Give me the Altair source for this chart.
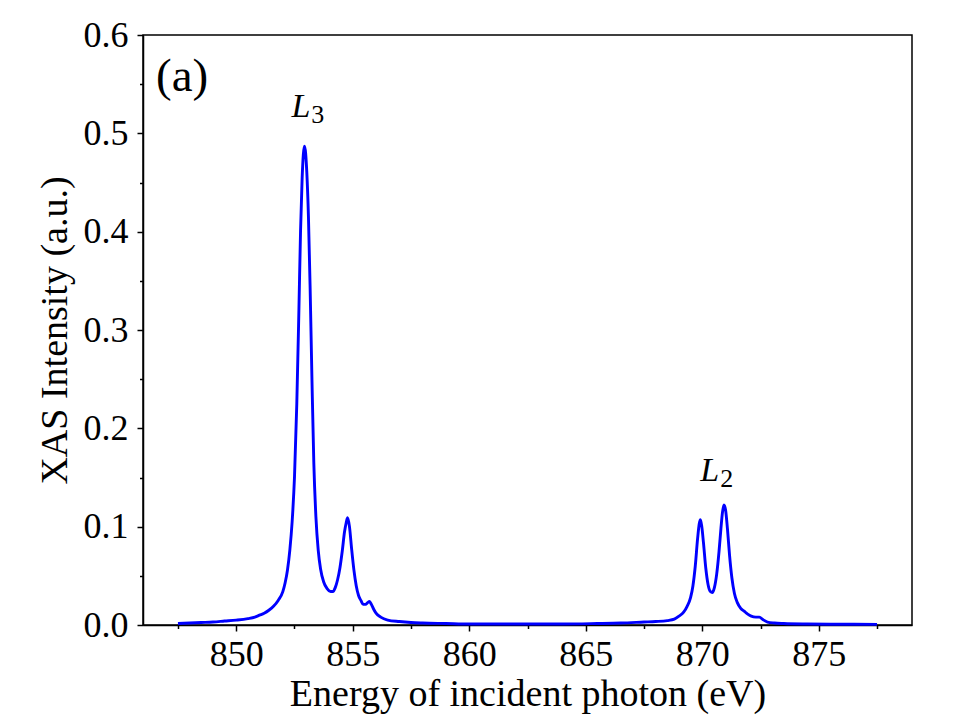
import altair as alt
import pandas as pd

# Spectrum (energy in eV, intensity in a.u.)
energy = [
    847.5, 848.0, 848.5, 849.0, 849.5, 850.0, 850.5, 850.8, 851.0, 851.2,
    851.4, 851.6, 851.8, 852.0, 852.1, 852.2, 852.3, 852.4, 852.5, 852.6,
    852.69, 852.76, 852.83, 852.93, 853.03, 853.1, 853.17, 853.25, 853.33, 853.42,
    853.52, 853.62, 853.75, 853.9, 854.05, 854.15, 854.25, 854.35, 854.45, 854.55,
    854.65, 854.72, 854.78, 854.86, 854.95, 855.05, 855.15, 855.25, 855.35, 855.45,
    855.55, 855.65, 855.72, 855.8, 855.9, 856.0, 856.2, 856.5, 857.0, 857.5,
    858.0, 859.0, 860.0, 862.0, 864.0, 865.5, 866.5, 867.5, 868.0, 868.5,
    868.8, 869.0, 869.2, 869.35, 869.5, 869.6, 869.7, 869.8, 869.87, 869.92,
    869.98, 870.05, 870.15, 870.25, 870.35, 870.43, 870.52, 870.62, 870.72, 870.8,
    870.87, 870.93, 871.0, 871.08, 871.17, 871.27, 871.38, 871.5, 871.65, 871.8,
    871.95, 872.1, 872.3, 872.45, 872.6, 872.8, 873.1, 873.5, 874.5, 875.5,
    876.5, 877.5,
]
intensity = [
    0.0015, 0.002, 0.0025, 0.003, 0.004, 0.005, 0.0065, 0.008, 0.010, 0.012,
    0.015, 0.019, 0.025, 0.034, 0.043, 0.056, 0.076, 0.105, 0.150, 0.225,
    0.320, 0.400, 0.455, 0.487, 0.460, 0.415, 0.345, 0.250, 0.165, 0.110,
    0.076, 0.057, 0.044, 0.037, 0.034, 0.034, 0.038, 0.046, 0.058, 0.075,
    0.095, 0.104, 0.109, 0.100, 0.078, 0.056, 0.040, 0.030, 0.025, 0.021,
    0.021, 0.023, 0.024, 0.021, 0.016, 0.012, 0.008, 0.005, 0.0035, 0.0025,
    0.002, 0.0015, 0.001, 0.001, 0.001, 0.0015, 0.002, 0.003, 0.0035, 0.0045,
    0.006, 0.009, 0.013, 0.019, 0.028, 0.040, 0.060, 0.088, 0.103, 0.107,
    0.100, 0.084, 0.058, 0.041, 0.034, 0.033, 0.038, 0.052, 0.075, 0.098,
    0.115, 0.122, 0.117, 0.098, 0.071, 0.048, 0.032, 0.023, 0.017, 0.014,
    0.011, 0.009, 0.008, 0.008, 0.0055, 0.003, 0.002, 0.0015, 0.001, 0.0008,
    0.0007, 0.0006,
]

x_tick_values = [847.5, 850, 852.5, 855, 857.5, 860, 862.5, 865, 867.5, 870, 872.5, 875, 877.5]
y_tick_values = [0.0, 0.05, 0.1, 0.15, 0.2, 0.25, 0.3, 0.35, 0.4, 0.45, 0.5, 0.55, 0.6]

x_domain = [846, 879]
y_domain = [0, 0.6]

# annotation texts and anchor points (data coordinates)
panel_label = pd.DataFrame({"energy": [847.68], "intensity": [0.543], "text": ["(a)"]})
edge_main = pd.DataFrame({"energy": [853.18, 870.73], "intensity": [0.517, 0.1465], "text": ["L", "L"]})
edge_sub = pd.DataFrame({"energy": [853.18, 870.73], "intensity": [0.511, 0.1405], "text": ["3", "2"]})

df = pd.DataFrame({"energy": energy, "intensity": intensity})

FONT = "Liberation Serif"

xscale = alt.Scale(domain=x_domain, nice=False, zero=False)
yscale = alt.Scale(domain=y_domain, nice=False, zero=False)

x_axis = alt.Axis(
    values=x_tick_values,
    labelExpr="datum.value % 5 === 0 ? format(datum.value, 'd') : ''",
    tickSize={"condition": {"test": "datum.value % 5 === 0", "value": 6}, "value": 3.5},
    labelPadding=6,
    title="Energy of incident photon (eV)",
    titleFontSize=38,
    titlePadding=3,
)
y_axis = alt.Axis(
    values=y_tick_values,
    labelExpr="round(datum.value * 100) % 10 === 0 ? format(datum.value, '.1f') : ''",
    tickSize={"condition": {"test": "round(datum.value * 100) % 10 === 0", "value": 6}, "value": 3.5},
    labelPadding=9,
    title="XAS Intensity (a.u.)",
    titleFontSize=38,
    titlePadding=9,
)

line = alt.Chart(df).mark_line(
    color="#0000ff", strokeWidth=2.9, interpolate="monotone"
).encode(
    x=alt.X("energy:Q", scale=xscale, axis=x_axis),
    y=alt.Y("intensity:Q", scale=yscale, axis=y_axis),
)

t_panel = alt.Chart(panel_label).mark_text(
    font=FONT, fontSize=47, align="center", baseline="alphabetic", color="black"
).encode(x=alt.X("energy:Q", scale=xscale), y=alt.Y("intensity:Q", scale=yscale), text="text:N")

t_main = alt.Chart(edge_main).mark_text(
    font=FONT, fontSize=34, fontStyle="italic", align="right", baseline="alphabetic", color="black"
).encode(x=alt.X("energy:Q", scale=xscale), y=alt.Y("intensity:Q", scale=yscale), text="text:N")

t_sub = alt.Chart(edge_sub).mark_text(
    font=FONT, fontSize=26, align="left", baseline="alphabetic", color="black", dx=1
).encode(x=alt.X("energy:Q", scale=xscale), y=alt.Y("intensity:Q", scale=yscale), text="text:N")

chart = alt.layer(line, t_panel, t_main, t_sub).properties(
    width=769,
    height=590,
    autosize=alt.AutoSizeParams(type="none"),
    padding={"left": 143, "top": 35, "right": 48, "bottom": 95},
).configure_view(
    stroke="black", strokeWidth=1.5
).configure_axis(
    grid=False,
    domainColor="black",
    domainWidth=1.5,
    tickColor="black",
    tickWidth=1.5,
    labelFont=FONT,
    labelFontSize=36,
    labelColor="black",
    labelOverlap=False,
    titleFont=FONT,
    titleFontWeight="normal",
    titleColor="black",
)

chart.save("out.html", embed_options={"renderer": "svg", "actions": False})
